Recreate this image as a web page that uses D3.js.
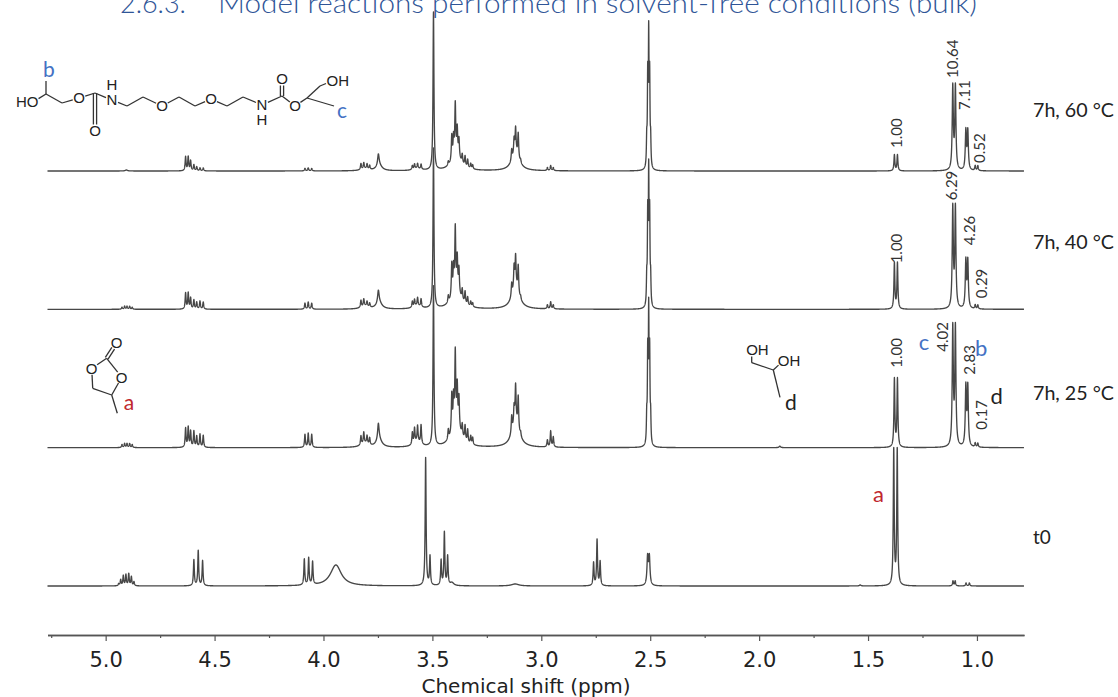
<!DOCTYPE html>
<html>
<head>
<meta charset="utf-8">
<script src="https://cdn.jsdelivr.net/npm/d3@7"></script>
<style>
  body { margin: 0; background: #fff; }
  svg { display: block; }
</style>
</head>
<body>
<svg id="chart" width="1118" height="697"></svg>
<script>
// stacked 1H NMR spectra, peaks as [ppm, height (a.u.), half-width (ppm)]
const spectra = ['7h, 60 °C', '7h, 40 °C', '7h, 25 °C', 't0']

const peaks60 = [
  [4.905, 1, 0.006],
  [4.633, 14], [4.621, 14], [4.610, 10], [4.595, 6], [4.582, 4], [4.567, 3], [4.552, 3],
  [4.085, 2.5], [4.070, 3], [4.054, 2.5],
  [3.828, 6], [3.815, 6], [3.800, 5], [3.788, 4], [3.810, 2, 0.02],
  [3.748, 11, 0.004], [3.745, 6, 0.015],
  [3.592, 4], [3.582, 5], [3.568, 5], [3.552, 5], [3.570, 2, 0.02],
  [3.495, 158],
  [3.427, 4], [3.411, 25], [3.403, 20], [3.395, 51], [3.386, 26], [3.378, 18], [3.363, 9],
  [3.350, 10], [3.338, 8], [3.324, 5], [3.315, 4], [3.390, 15, 0.025],
  [3.136, 11], [3.125, 15], [3.118, 24], [3.106, 24], [3.095, 3], [3.118, 18, 0.02],
  [2.972, 3], [2.957, 5], [2.945, 3],
  [2.498, 25, 0.0018], [2.5025, 85, 0.0018], [2.507, 125, 0.0018], [2.5115, 85, 0.0018], [2.516, 25, 0.0018],
  [1.379, 16], [1.365, 16],
  [1.111, 83, 0.003], [1.099, 83, 0.003],
  [1.051, 39, 0.003], [1.042, 39, 0.003],
  [1.008, 5], [0.996, 5]
]

const peaks40 = [
  [4.925, 2], [4.913, 3], [4.902, 3], [4.890, 3], [4.878, 2],
  [4.633, 16], [4.621, 16], [4.610, 11], [4.595, 9], [4.582, 7], [4.567, 8], [4.552, 7],
  [4.085, 6], [4.070, 7], [4.054, 6],
  [3.828, 7], [3.815, 7], [3.800, 5], [3.788, 4], [3.810, 3, 0.02],
  [3.748, 12, 0.004], [3.745, 7, 0.015],
  [3.592, 6], [3.582, 7], [3.568, 8], [3.552, 8], [3.570, 3, 0.02],
  [3.495, 160],
  [3.427, 7], [3.411, 33], [3.403, 25], [3.395, 62], [3.386, 32], [3.378, 24], [3.363, 11],
  [3.350, 12], [3.338, 8], [3.324, 5], [3.315, 4], [3.390, 18, 0.025],
  [3.136, 13], [3.125, 22], [3.118, 30], [3.106, 27], [3.095, 3], [3.118, 22, 0.02],
  [2.972, 4], [2.957, 7], [2.945, 4],
  [2.498, 25, 0.0018], [2.5025, 85, 0.0018], [2.507, 125, 0.0018], [2.5115, 85, 0.0018], [2.516, 25, 0.0018],
  [1.379, 46], [1.365, 46],
  [1.111, 100, 0.003], [1.099, 100, 0.003],
  [1.051, 47, 0.003], [1.042, 47, 0.003],
  [1.008, 4], [0.996, 4]
]

const peaks25 = [
  [4.925, 3], [4.913, 4], [4.902, 4], [4.890, 4], [4.878, 3],
  [4.633, 19], [4.621, 20], [4.610, 16], [4.595, 16], [4.582, 11], [4.567, 13], [4.552, 12],
  [4.085, 13], [4.070, 14], [4.054, 13],
  [3.828, 9], [3.815, 11], [3.800, 8], [3.788, 7], [3.810, 4, 0.02],
  [3.748, 16, 0.004], [3.745, 8, 0.015],
  [3.592, 12], [3.582, 15], [3.568, 16], [3.552, 19], [3.570, 5, 0.02],
  [3.495, 160],
  [3.427, 10], [3.411, 38], [3.403, 30], [3.395, 72], [3.386, 38], [3.378, 30], [3.363, 12],
  [3.350, 15], [3.338, 13], [3.324, 8], [3.315, 7], [3.390, 22, 0.025],
  [3.136, 17], [3.125, 17], [3.118, 36], [3.106, 32], [3.095, 4], [3.118, 25, 0.02],
  [2.972, 7], [2.957, 16], [2.945, 10],
  [2.498, 25, 0.0018], [2.5025, 85, 0.0018], [2.507, 125, 0.0018], [2.5115, 85, 0.0018], [2.516, 25, 0.0018],
  [1.905, 1.5, 0.004],
  [1.379, 68], [1.365, 68],
  [1.111, 118, 0.003], [1.099, 118, 0.003],
  [1.051, 59, 0.003], [1.042, 59, 0.003],
  [1.008, 4], [0.996, 4]
]

const peaksT0 = [
  [4.940, 2], [4.931, 6], [4.919, 10], [4.907, 11], [4.894, 12], [4.882, 9], [4.870, 4],
  [4.595, 26], [4.575, 35], [4.555, 25],
  [4.088, 26], [4.068, 27], [4.050, 23],
  [3.943, 21, 0.03],
  [3.531, 128], [3.511, 29],
  [3.460, 25], [3.445, 53], [3.430, 29], [3.410, 3, 0.01],
  [3.120, 2, 0.02],
  [2.760, 23], [2.744, 46], [2.730, 24],
  [2.512, 28, 0.0035], [2.504, 28, 0.0035],
  [1.536, 1, 0.004],
  [1.382, 136], [1.366, 136],
  [1.110, 5], [1.100, 5],
  [1.050, 3], [1.035, 3]
]

const series = [peaks60, peaks40, peaks25, peaksT0]

// integrals: [spectrum, ppm, value]
const integrals = [
  ['7h, 60 °C', 1.367, '1.00'], ['7h, 60 °C', 1.110, '10.64'], ['7h, 60 °C', 1.055, '7.11'], ['7h, 60 °C', 0.986, '0.52'],
  ['7h, 40 °C', 1.367, '1.00'], ['7h, 40 °C', 1.114, '6.29'], ['7h, 40 °C', 1.032, '4.26'], ['7h, 40 °C', 0.977, '0.29'],
  ['7h, 25 °C', 1.367, '1.00'], ['7h, 25 °C', 1.155, '4.02'], ['7h, 25 °C', 1.032, '2.83'], ['7h, 25 °C', 0.977, '0.17']
]
const integralLift = [23, 93, 61, 8, 46, 109, 64, 11, 80, 96, 73, 18]

// peak assignment letters: [spectrum, ppm, letter]
const assignments = [
  ['7h, 25 °C', 1.243, 'c'], ['7h, 25 °C', 0.981, 'b'], ['7h, 25 °C', 0.910, 'd'], ['t0', 1.452, 'a']
]
const assignLift = [105, 99, 51, 92]
const assignColor = { a: '#c0272d', b: '#4472c4', c: '#4472c4', d: '#222' }

const labelLift = [54, 60, 48, 42]

const majorTicks = [5.0, 4.5, 4.0, 3.5, 3.0, 2.5, 2.0, 1.5, 1.0]
const minorTicks = [5.25, 4.75, 4.25, 3.75, 3.25, 2.75, 2.25, 1.75, 1.25]

const svg = d3.select('#chart')
const lineColor = '#474747'
const labelFont = 'Lato, "Open Sans", sans-serif'

const x = d3.scaleLinear()
  .domain([5.267, 0.784])
  .range([47.5, 1024])

const base = d3.scalePoint()
  .domain(spectra)
  .range([171, 586])

const yInt = d3.scaleLinear()
  .domain([0, 100])
  .range([0, 100])

const lorentz = (ppm, list) => {
  let s = 0
  for (const [c, h, w = 0.0025] of list) {
    const d = (ppm - c) / w
    s += h / (1 + d * d)
  }
  return s
}

const grid = d3.range(x.domain()[0], x.domain()[1], -0.0004)

// title (cut at the top like the page it came from)
const title = svg.append('g').attr('fill', '#2f5597')
  .style('font-family', labelFont).style('font-weight', 300).style('font-size', '27px')
title.append('text').attr('x', 120).attr('y', 13).text('2.6.3.')
title.append('text').attr('x', 218).attr('y', 13)
  .attr('textLength', 759).attr('lengthAdjust', 'spacingAndGlyphs')
  .text('Model reactions performed in solvent-free conditions (bulk)')

// spectra
const line = d3.line()

spectra.forEach((name, i) => {
  const b = base(name)
  const pts = grid.map(p => [x(p), b - yInt(lorentz(p, series[i]))])
  svg.append('path')
    .attr('d', line(pts))
    .attr('fill', 'none')
    .attr('stroke', lineColor)
    .attr('stroke-width', 1.35)
    .attr('stroke-linejoin', 'round')

  const t = svg.append('text')
    .attr('x', 1033)
    .attr('y', b - labelLift[i])
    .style('font-family', labelFont)
    .style('font-size', '19px')
    .attr('fill', '#222')
    .text(name)
  if (name !== 't0') t.attr('textLength', 81).attr('lengthAdjust', 'spacingAndGlyphs')
})

// integrals
integrals.forEach(([name, ppm, val], i) => {
  svg.append('text')
    .attr('transform', `translate(${x(ppm)},${base(name) - yInt(integralLift[i])}) rotate(-90)`)
    .attr('dy', '0.35em')
    .style('font-family', labelFont)
    .style('font-size', '15px')
    .attr('fill', '#333')
    .text(val)
})

assignments.forEach(([name, ppm, letter], i) => {
  svg.append('text')
    .attr('x', x(ppm))
    .attr('y', base(name) - yInt(assignLift[i]))
    .attr('dy', '0.35em')
    .attr('text-anchor', 'middle')
    .style('font-family', labelFont)
    .style('font-size', '22px')
    .attr('fill', assignColor[letter])
    .text(letter)
})

// axis
const axisY = 635
const gx = svg.append('g').attr('transform', `translate(0,${axisY})`)

gx.append('g')
  .call(d3.axisBottom(x).tickValues(minorTicks).tickSize(3).tickSizeOuter(0).tickFormat(''))
gx.append('g')
  .call(d3.axisBottom(x).tickValues(majorTicks).tickSize(6).tickSizeOuter(0).tickPadding(11)
    .tickFormat(d3.format('.1f')))

gx.selectAll('path.domain').attr('stroke', '#555').attr('stroke-width', 1.5)
gx.selectAll('.tick line').attr('stroke', '#555').attr('stroke-width', 1.2)
gx.selectAll('.tick text')
  .attr('fill', '#222')
  .style('font-family', '"DejaVu Sans", Verdana, sans-serif')
  .style('font-size', '21px')

svg.append('text')
  .attr('x', x(3.07))
  .attr('y', 693)
  .attr('text-anchor', 'middle')
  .style('font-family', '"DejaVu Sans", Verdana, sans-serif')
  .style('font-size', '20px')
  .attr('fill', '#222')
  .text('Chemical shift (ppm)')

// structures
function drawMol(atoms, bonds, letters) {
  const g = svg.append('g')
  const trim = (a, b) => {
    const [x1, y1] = atoms[a], [x2, y2] = atoms[b]
    const len = Math.hypot(x2 - x1, y2 - y1)
    const t1 = atoms[a][2] ? 6.5 / len : 0
    const t2 = atoms[b][2] ? 6.5 / len : 0
    return [x1 + (x2 - x1) * t1, y1 + (y2 - y1) * t1, x1 + (x2 - x1) * (1 - t2), y1 + (y2 - y1) * (1 - t2)]
  }
  bonds.forEach(([a, b, order]) => {
    const [x1, y1, x2, y2] = trim(a, b)
    const offs = order === 2 ? [-1.6, 1.6] : [0]
    const len = Math.hypot(x2 - x1, y2 - y1)
    const nx = -(y2 - y1) / len, ny = (x2 - x1) / len
    offs.forEach(o => {
      g.append('line')
        .attr('x1', x1 + nx * o).attr('y1', y1 + ny * o)
        .attr('x2', x2 + nx * o).attr('y2', y2 + ny * o)
        .attr('stroke', '#333').attr('stroke-width', 1.3)
    })
  })
  Object.values(atoms).filter(a => a[2]).forEach(([ax, ay, lab]) => {
    let anchor = 'middle', dx = 0
    if (lab === 'HO') { anchor = 'end'; dx = 5.5 }
    if (lab === 'OH') { anchor = 'start'; dx = -5.5 }
    g.append('text')
      .attr('x', ax + dx).attr('y', ay).attr('dy', '0.36em')
      .attr('text-anchor', anchor)
      .style('font-family', '"Liberation Sans", Arial, sans-serif')
      .style('font-size', '15px')
      .attr('fill', '#222')
      .text(lab)
  })
  letters.forEach(([lx, ly, l]) => {
    g.append('text')
      .attr('x', lx).attr('y', ly).attr('dy', '0.35em')
      .attr('text-anchor', 'middle')
      .style('font-family', labelFont)
      .style('font-size', '21px')
      .attr('fill', assignColor[l])
      .text(l)
  })
}

drawMol({
  HO: [33, 102, 'HO'], C1: [46, 94], Cb: [46, 81], C2: [62, 103], O1: [79, 98, 'O'], C3: [95, 93],
  Ob: [95, 131, 'O'], N1: [112, 100, 'N'], H1: [112, 85, 'H'], C4: [127, 106], C5: [143, 97],
  O2: [162, 106, 'O'], C6: [179, 97], C7: [195, 106], O3: [211, 99, 'O'], C8: [227, 106],
  C9: [243, 97], N2: [262, 105, 'N'], H2: [262, 120, 'H'], C10: [282, 96], Ot: [282, 79, 'O'],
  O4: [295, 106, 'O'], C11: [307, 98], C12: [320, 86], OH: [332, 81, 'OH'], C13: [334, 106]
}, [
  ['HO', 'C1'], ['C1', 'Cb'], ['C1', 'C2'], ['C2', 'O1'], ['O1', 'C3'], ['C3', 'Ob', 2], ['C3', 'N1'],
  ['N1', 'C4'], ['C4', 'C5'], ['C5', 'O2'], ['O2', 'C6'], ['C6', 'C7'], ['C7', 'O3'], ['O3', 'C8'],
  ['C8', 'C9'], ['C9', 'N2'], ['N2', 'C10'], ['C10', 'Ot', 2], ['C10', 'O4'], ['O4', 'C11'],
  ['C11', 'C12'], ['C12', 'OH'], ['C11', 'C13']
], [[49, 70, 'b'], [342, 111, 'c']])

drawMol({
  Oc: [116.7, 342.7, 'O'], Cc: [106.7, 358.3], Ol: [91.7, 368.3, 'O'], Or: [121.7, 377.3, 'O'],
  C4: [92.7, 388.3], C5: [111.7, 395], Me: [117.3, 413.3]
}, [
  ['Cc', 'Oc', 2], ['Cc', 'Ol'], ['Cc', 'Or'], ['Ol', 'C4'], ['C4', 'C5'], ['C5', 'Or'], ['C5', 'Me']
], [[129, 403, 'a']])

drawMol({
  O1: [751.7, 350, 'OH'], C1: [751.7, 362.7], C2: [773.3, 370], O2: [783.3, 360.7, 'OH'], Me: [780, 397.3]
}, [
  ['O1', 'C1'], ['C1', 'C2'], ['C2', 'O2'], ['C2', 'Me']
], [[791, 403, 'd']])
</script>
</body>
</html>
